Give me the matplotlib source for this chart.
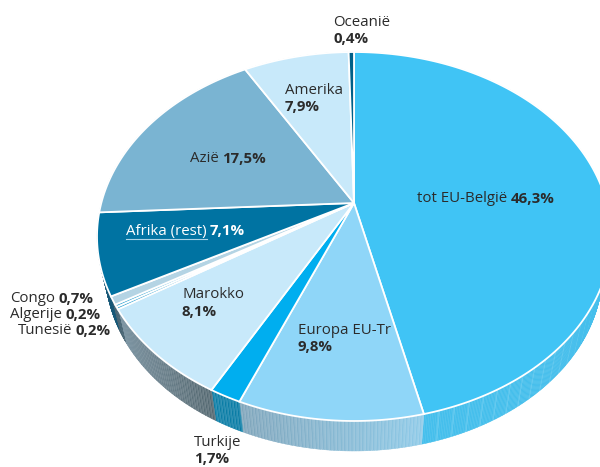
import numpy as np
import matplotlib
matplotlib.use("Agg")
import matplotlib.pyplot as plt
from matplotlib.colors import to_rgb

categories = ["tot EU-België", "Europa EU-Tr", "Turkije", "Marokko", "Tunesië",
              "Algerije", "Congo", "Afrika (rest)", "Azië", "Amerika", "Oceanië"]
values = [46.3, 9.8, 1.7, 8.1, 0.2, 0.2, 0.7, 7.1, 17.5, 7.9, 0.4]
top_colors = ["#40C4F5", "#8FD6F8", "#00AEEF", "#C8E9FA", "#2A9FD0", "#2A9FD0",
              "#B4D4E4", "#0073A2", "#7AB4D2", "#C8E9FA", "#005F87"]
wall_near = ["#45BFEC", "#7FA5BB", "#0A7DA6", "#76909F", "#3F5D6D", "#3F5D6D",
             "#3F5D6D", "#0A4F70", "#5A8AA0", "#8FA6B5", "#0A5F85"]
wall_far = ["#6FB6D2", "#8ECAE8", "#0A7DA6", "#52666F", "#3F5D6D", "#3F5D6D",
            "#3F5D6D", "#0A4F70", "#5A8AA0", "#8FA6B5", "#0A5F85"]

fig = plt.figure(figsize=(6, 4.67), dpi=100)
ax = fig.add_axes([0, 0, 1, 1])
ax.set_xlim(0, 600)
ax.set_ylim(467, 0)
ax.axis("off")

CX, CY, AP, BP, K = 354.0, 203.0, 252.7, 178.4, 0.1816
ECY, EA, EB = 236.5, 257.0, 185.0
LCY, LA, LB = 271.0, 248.5, 180.0


def top_pt(theta):
    u, v = np.sin(theta), -np.cos(theta)
    w = 1 - K * v
    return CX + AP * u / w, CY + BP * v / w


def low_pt(theta):
    x, y = top_pt(theta)
    t = np.arctan2((y - ECY) / EB, (x - CX) / EA)
    return CX + LA * np.cos(t), LCY + LB * np.sin(t)


def blend(a, b, f):
    a, b = np.array(to_rgb(a)), np.array(to_rgb(b))
    return tuple(a + (b - a) * f)


cum = np.concatenate([[0], np.cumsum(values)]) / sum(values) * 2 * np.pi
# side wall
for i in range(len(values)):
    t0, t1 = cum[i], cum[i + 1]
    n = max(2, int(np.ceil((t1 - t0) * 250 / 1.5)))
    edges = np.linspace(t0, t1, n + 1)
    textured = categories[i] != "tot EU-België"
    for j in range(n):
        a, b = edges[j], edges[j + 1]
        mid = (a + b) / 2
        x0, y0 = top_pt(a); x1, y1 = top_pt(b)
        x2, y2 = low_pt(b); x3, y3 = low_pt(a)
        if categories[i] == "tot EU-België":
            f = np.clip((np.radians(95) - mid) / np.radians(40), 0, 1)
        else:
            f = (t1 - mid) / (t1 - t0)
        col = blend(wall_near[i], wall_far[i], f)
        if textured and j % 2 == 0:
            col = blend(col, "#FFFFFF", 0.13)
        if not textured and j % 9 == 0:
            col = blend(col, "#FFFFFF", 0.14)
        ax.fill([x0, x1, x2, x3], [y0, y1, y2, y3], color=col, lw=0.3, zorder=1)

# top face
for i in range(len(values)):
    th = np.linspace(cum[i], cum[i + 1], max(3, int(values[i] * 8)))
    px, py = top_pt(th)
    ax.fill(np.r_[CX, px], np.r_[CY, py], facecolor=top_colors[i],
            edgecolor="white", lw=1.3, joinstyle="miter", zorder=2)

FONT = "Open Sans"
SIZE = 10.8
INK = "#2B2B2B"
renderer = fig.canvas.get_renderer()


def fmt(v):
    return f"{v:.1f}%".replace(".", ",")


def inline(x, y, name, val, color=INK):
    t = ax.text(x, y + 1, name, family=FONT, size=SIZE, color=color, va="center", ha="left", zorder=5)
    w = t.get_window_extent(renderer).width
    ax.text(x + w + 3.5, y + 1, val, family=FONT, size=SIZE, weight="bold", color=color, va="center", ha="left", zorder=5)


def stacked(x, y1, y2, name, val):
    ax.text(x, y1 + 1, name, family=FONT, size=SIZE, color=INK, va="center", ha="left", zorder=5)
    ax.text(x, y2 + 1, val, family=FONT, size=SIZE, weight="bold", color=INK, va="center", ha="left", zorder=5)


v = dict(zip(categories, values))
stacked(333, 21, 38, "Oceanië", fmt(v["Oceanië"]))
stacked(285, 90, 106, "Amerika", fmt(v["Amerika"]))
inline(190, 158, "Azië", fmt(v["Azië"]))
inline(417, 198, "tot EU-België", fmt(v["tot EU-België"]))
inline(126, 230, "Afrika (rest)", fmt(v["Afrika (rest)"]), color="white")
ax.plot([126, 207], [239, 239], color="#A9D3E6", lw=0.8, zorder=5)
stacked(182, 294, 311, "Marokko", fmt(v["Marokko"]))
stacked(298, 330, 346, "Europa EU-Tr", fmt(v["Europa EU-Tr"]))
inline(10, 298, "Congo", fmt(v["Congo"]))
inline(10, 314, "Algerije", fmt(v["Algerije"]))
inline(18, 330, "Tunesië", fmt(v["Tunesië"]))
stacked(194, 442, 458, "Turkije", fmt(v["Turkije"]))

fig.savefig("out.png", dpi=100)
